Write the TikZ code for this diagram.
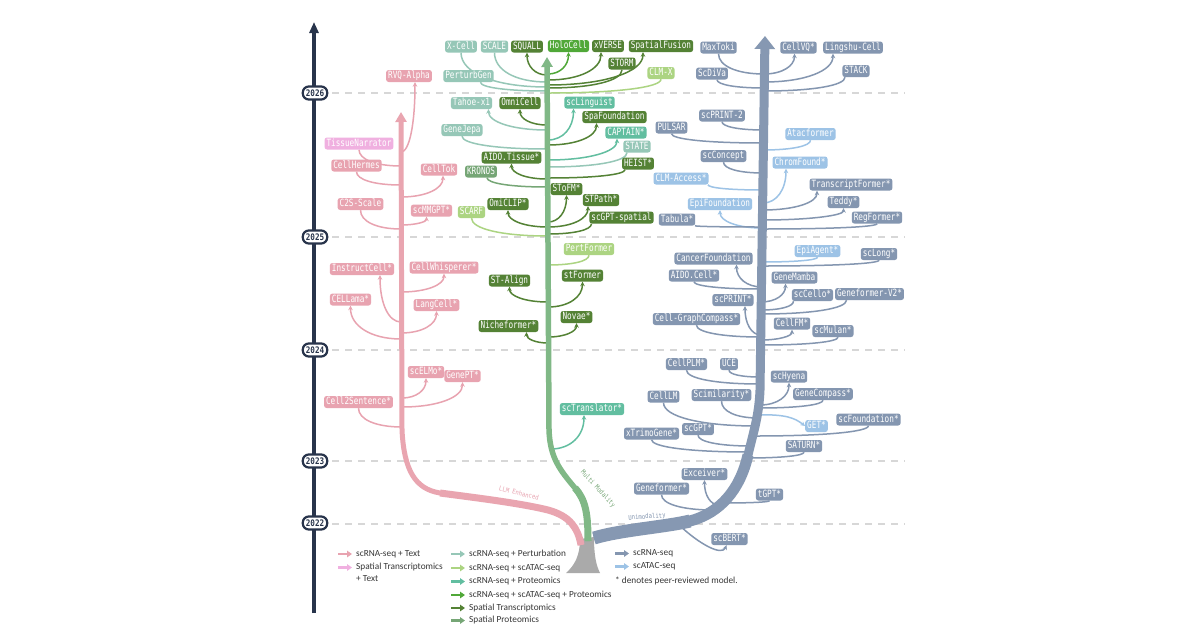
\documentclass[tikz,border=0pt]{standalone}
\usepackage{fontspec}
\setmainfont{Carlito}
\newfontfamily\boxfont[FakeStretch=0.77]{DejaVu Sans Mono}
\newfontfamily\lblfont[FakeStretch=0.85]{DejaVu Sans Mono}
\usetikzlibrary{arrows.meta,calc}
\pgfdeclarelayer{grid}
\pgfdeclarelayer{br}
\pgfdeclarelayer{tr}
\pgfsetlayers{grid,br,tr,main}
\definecolor{navy}{RGB}{40,52,75}
\definecolor{gridc}{RGB}{215,215,215}
\definecolor{pinkT}{RGB}{232,163,176}
\definecolor{pinkS}{RGB}{240,176,224}
\definecolor{pert}{RGB}{150,199,183}
\definecolor{atacRna}{RGB}{172,212,130}
\definecolor{prot}{RGB}{98,190,160}
\definecolor{tri}{RGB}{80,168,56}
\definecolor{spT}{RGB}{84,130,53}
\definecolor{spP}{RGB}{118,166,118}
\definecolor{rna}{RGB}{132,150,176}
\definecolor{atac}{RGB}{157,195,230}
\definecolor{trG}{RGB}{128,184,134}
\definecolor{trP}{RGB}{233,165,176}
\definecolor{trB}{RGB}{134,152,178}
\definecolor{baseg}{RGB}{170,170,170}
\definecolor{legc}{RGB}{55,55,55}
\tikzset{
 mb/.style={fill=#1, text=white, rounded corners=2.5pt, font=\boxfont\fontsize{10}{11}\selectfont, inner xsep=2pt, inner ysep=1.4pt, text height=7.3pt, text depth=1.9pt, minimum height=12pt},
 ln/.style={draw=#1, line width=1.5pt},
 ar/.style={draw=#1, line width=1.5pt, -{Stealth[length=4.5pt,width=4.5pt]}},
 pill/.style={draw=navy, fill=white, line width=2.2pt, rounded corners=6pt, font=\lblfont\bfseries\fontsize{9}{10}\selectfont, text=navy, inner xsep=3pt, inner ysep=1.5pt, minimum height=13pt},
 yl/.style={draw=gridc, line width=1.3pt, dash pattern=on 7pt off 6pt},
 lg/.style={draw=#1, line width=2.6pt, -{Triangle[length=5pt,width=6.5pt]}},
 lt/.style={anchor=west, font=\fontsize{9.3}{11}\selectfont, text=legc, inner sep=0pt},
 tl/.style={font=\lblfont\fontsize{6.6}{7}\selectfont, text=#1, inner sep=0pt},
}
% arrow branch: trunk -> node bottom
\newcommand\bA[5][0]{\begin{pgfonlayer}{br}
 \coordinate (#3) at (#4);
 \coordinate (#3n) at ([xshift=#1pt]#5.south);
 \coordinate (#3c) at (#3n |- #3);
 \draw[ar=#2] (#3) .. controls ($(#3)!0.6!(#3c)$) and ($(#3n)!0.6!(#3c)$) .. (#3n);
 \end{pgfonlayer}}
% plain branch: node bottom -> trunk
\newcommand\bB[5][0]{\begin{pgfonlayer}{br}
 \coordinate (#3) at (#4);
 \coordinate (#3n) at ([xshift=#1pt]#5.south);
 \coordinate (#3c) at (#3n |- #3);
 \draw[ln=#2] (#3n) .. controls ($(#3n)!0.6!(#3c)$) and ($(#3)!0.6!(#3c)$) .. (#3);
 \end{pgfonlayer}}
\begin{document}
\begin{tikzpicture}[x=1pt,y=-1pt]
\begin{pgfonlayer}{grid}
\fill[white] (0,0) rectangle (1200,630);
\foreach \yy in {93,237,350,461,524} \draw[yl] (332,\yy) -- (905,\yy);
\end{pgfonlayer}
\useasboundingbox (0,0) rectangle (1200,630);

% ---------- timeline ----------
\begin{pgfonlayer}{tr}
\draw[navy, line width=3.2pt, -{Triangle[length=11pt,width=9pt]}] (314,613) -- (314,22);
\end{pgfonlayer}
\node[pill] (y2026) at (315,93) {2026};
\node[pill] (y2025) at (315,237) {2025};
\node[pill] (y2024) at (315,350) {2024};
\node[pill] (y2023) at (315,461) {2023};
\node[pill] (y2022) at (315,523) {2022};

% ---------- trunks ----------
\begin{pgfonlayer}{tr}
\fill[baseg] (566,573) .. controls (575,565) and (580,555) .. (580,539) -- (594,537) .. controls (594,555) and (596,565) .. (600,573) -- cycle;
% pink
\draw[trP, line width=7pt] (581,545) .. controls (578,528) and (570,516) .. (548,510) .. controls (520,503) and (470,497) .. (440,493);
\draw[trP, line width=5pt, -{Triangle[length=10pt,width=11pt]}] (581,545) .. controls (578,528) and (570,516) .. (548,510) .. controls (520,503) and (470,497) .. (440,493) .. controls (415,489) and (404,470) .. (402,430) -- (401,112);
% green
\draw[trG, line width=7pt] (588,541) .. controls (588,515) and (586,500) .. (575,488);
\draw[trG, line width=5.5pt, -{Triangle[length=10pt,width=11pt]}] (588,541) .. controls (588,515) and (586,500) .. (575,488) .. controls (560,470) and (550,458) .. (549,430) -- (547,57);
% blue
\draw[trB, line width=13pt] (594,538) .. controls (620,530) and (665,527) .. (690,521);
\draw[trB, line width=11pt] (594,538) .. controls (620,530) and (665,527) .. (690,521) .. controls (720,513) and (740,490) .. (748,455);
\draw[trB, line width=9pt, -{Triangle[length=13pt,width=20pt]}] (594,538) .. controls (620,530) and (665,527) .. (690,521) .. controls (720,513) and (740,490) .. (748,455) .. controls (754,430) and (759,415) .. (760,390) -- (765,36);
\end{pgfonlayer}
\node[tl=pinkT, rotate=-14] (llm) at (519,493) {LLM Enhanced};
\node[tl=spP, rotate=-47] (mm) at (598,489) {Multi Modality};
\node[tl=rna, rotate=4] (uni) at (647,517) {Unimodality};

% ---------- pink nodes ----------
\node[mb=pinkT] (RVQ) at (409,76) {RVQ-Alpha};
\node[mb=pinkS] (TN) at (359,143.5) {TissueNarrator};
\node[mb=pinkT] (CellHermes) at (356.5,165.5) {CellHermes};
\node[mb=pinkT] (CellTok) at (439,169.5) {CellTok};
\node[mb=pinkT] (C2S) at (360.5,204) {C2S-Scale};
\node[mb=pinkT] (scMMGPT) at (431.5,210.5) {scMMGPT*};
\node[mb=pinkT] (InstructCell) at (362,269) {InstructCell*};
\node[mb=pinkT] (CellWhisperer) at (444,267.5) {CellWhisperer*};
\node[mb=pinkT] (CELLama) at (350.5,299.5) {CELLama*};
\node[mb=pinkT] (LangCell) at (436.5,305) {LangCell*};
\node[mb=pinkT] (scELMo) at (426,372) {scELMo*};
\node[mb=pinkT] (GenePT) at (462.5,376) {GenePT*};
\node[mb=pinkT] (CellSent) at (358.5,402) {Cell2Sentence*};

% ---------- green nodes ----------
\node[mb=pert] (XCell) at (461,46.5) {X-Cell};
\node[mb=pert] (SCALE) at (494.5,46.5) {SCALE};
\node[mb=spT] (SQUALL) at (527,46.5) {SQUALL};
\node[mb=tri] (HoloCell) at (568.5,46) {HoloCell};
\node[mb=spT] (xVERSE) at (608,46) {xVERSE};
\node[mb=spT] (SpatialFusion) at (661,46) {SpatialFusion};
\node[mb=spT] (STORM) at (622,63.5) {STORM};
\node[mb=atacRna] (CLMX) at (661,73) {CLM-X};
\node[mb=pert] (PerturbGen) at (468.5,76) {PerturbGen};
\node[mb=pert] (Tahoe) at (471.5,103) {Tahoe-x1};
\node[mb=spT] (OmniCell) at (520,103) {OmniCell};
\node[mb=prot] (scLinguist) at (589.5,102.5) {scLinguist};
\node[mb=spT] (SpaFoundation) at (614.5,117) {SpaFoundation};
\node[mb=pert] (GeneJepa) at (462,130) {GeneJepa};
\node[mb=prot] (CAPTAIN) at (626,132.5) {CAPTAIN*};
\node[mb=pert] (STATE) at (637,146.5) {STATE};
\node[mb=spT] (AIDOTissue) at (511.5,157.5) {AIDO.Tissue*};
\node[mb=spT] (HEIST) at (638,163.5) {HEIST*};
\node[mb=spP] (KRONOS) at (481,171.5) {KRONOS};
\node[mb=spT] (SToFM) at (566.5,189) {SToFM*};
\node[mb=spT] (STPath) at (601,200) {STPath*};
\node[mb=spT] (OmiCLIP) at (508,204) {OmiCLIP*};
\node[mb=atacRna] (SCARF) at (471.5,212) {SCARF};
\node[mb=spT] (scGPTspatial) at (621.5,217.5) {scGPT-spatial};
\node[mb=atacRna] (PertFormer) at (589,249) {PertFormer};
\node[mb=spT] (STAlign) at (509.5,280.5) {ST-Align};
\node[mb=spT] (stFormer) at (582.5,275.5) {stFormer};
\node[mb=spT] (Novae) at (576.5,317) {Novae*};
\node[mb=spT] (Nicheformer) at (508.5,326) {Nicheformer*};
\node[mb=prot] (scTranslator) at (592,409) {scTranslator*};

% ---------- blue nodes ----------
\node[mb=rna] (MaxToki) at (718.5,47.5) {MaxToki};
\node[mb=rna] (CellVQ) at (798.5,47.5) {CellVQ*};
\node[mb=rna] (Lingshu) at (853,47.5) {Lingshu-Cell};
\node[mb=rna] (ScDiVa) at (712,73.5) {ScDiVa};
\node[mb=rna] (STACK) at (856,71) {STACK};
\node[mb=rna] (scPRINTtwo) at (722,115.5) {scPRINT-2};
\node[mb=rna] (PULSAR) at (671.5,127.5) {PULSAR};
\node[mb=atac] (Atacformer) at (810.5,134) {Atacformer};
\node[mb=rna] (scConcept) at (723.5,156) {scConcept};
\node[mb=atac] (ChromFound) at (800,162.5) {ChromFound*};
\node[mb=atac] (CLMAccess) at (681,178.5) {CLM-Access*};
\node[mb=rna] (TranscriptFormer) at (851,184.5) {TranscriptFormer*};
\node[mb=atac] (EpiFoundation) at (720,204) {EpiFoundation};
\node[mb=rna] (Teddy) at (843.5,202) {Teddy*};
\node[mb=rna] (Tabula) at (677,219.5) {Tabula*};
\node[mb=rna] (RegFormer) at (877,217.5) {RegFormer*};
\node[mb=atac] (EpiAgent) at (817.5,251) {EpiAgent*};
\node[mb=rna] (CancerFoundation) at (713.5,258.5) {CancerFoundation};
\node[mb=rna] (scLong) at (879,254) {scLong*};
\node[mb=rna] (AIDOCell) at (694,275.5) {AIDO.Cell*};
\node[mb=rna] (GeneMamba) at (794.5,277.5) {GeneMamba};
\node[mb=rna] (scCello) at (812.5,295) {scCello*};
\node[mb=rna] (GeneformerV) at (869.5,294) {Geneformer-V2*};
\node[mb=rna] (scPRINT) at (733,300) {scPRINT*};
\node[mb=rna] (CellGraph) at (696.5,319) {Cell-GraphCompass*};
\node[mb=rna] (CellFM) at (792,323.5) {CellFM*};
\node[mb=rna] (scMulan) at (833,331) {scMulan*};
\node[mb=rna] (CellPLM) at (686.5,364) {CellPLM*};
\node[mb=rna] (UCE) at (729,364) {UCE};
\node[mb=rna] (scHyena) at (789,376.5) {scHyena};
\node[mb=rna] (CellLM) at (663.5,396.5) {CellLM};
\node[mb=rna] (Scimilarity) at (721.5,395) {Scimilarity*};
\node[mb=rna] (GeneCompass) at (823,394) {GeneCompass*};
\node[mb=rna] (scFoundation) at (868.5,419.5) {scFoundation*};
\node[mb=atac] (GET) at (816.5,426) {GET*};
\node[mb=rna] (xTrimoGene) at (651.5,433.5) {xTrimoGene*};
\node[mb=rna] (scGPT) at (698,429) {scGPT*};
\node[mb=rna] (SATURN) at (804,446) {SATURN*};
\node[mb=rna] (Exceiver) at (704.5,474) {Exceiver*};
\node[mb=rna] (Geneformer) at (661.5,488.5) {Geneformer*};
\node[mb=rna] (tGPT) at (769.5,494.5) {tGPT*};
\node[mb=rna] (scBERT) at (729.5,539) {scBERT*};

% ---------- pink branches ----------
\bB{pinkT}{tTN}{401,166}{TN}
\bA[6]{pinkT}{tRVQ}{401,152}{RVQ}
\bB{pinkT}{tCH}{401,185}{CellHermes}
\bA[4]{pinkT}{tCT}{401,197}{CellTok}
\bB{pinkT}{tCtwoS}{401,229}{C2S}
\bA[-5]{pinkT}{tMM}{401,225}{scMMGPT}
\bA[18]{pinkT}{tIC}{401,322}{InstructCell}
\bA{pinkT}{tCW}{401,292}{CellWhisperer}
\bA{pinkT}{tCL}{401,339}{CELLama}
\bA{pinkT}{tLC}{401,333}{LangCell}
\bA{pinkT}{tEL}{402,398}{scELMo}
\bA{pinkT}{tGP}{402,407}{GenePT}
\bB{pinkT}{tCS}{402,427}{CellSent}

% ---------- green branches ----------
\bB{pert}{tXC}{547,87}{XCell}
\bB{pert}{tSC}{547,82}{SCALE}
\bA{spT}{tSQ}{547,75}{SQUALL}
\bA{tri}{tHC}{548,74}{HoloCell}
\bA[-7]{spT}{tXV}{548,80}{xVERSE}
\bA[-18]{spT}{tSF}{548,85}{SpatialFusion}
\bB{spT}{tSTO}{548,88}{STORM}
\bB{atacRna}{tCX}{548,93}{CLMX}
\bB[12]{pert}{tPG}{547,91}{PerturbGen}
\bA[17]{pert}{tTx}{547,130}{Tahoe}
\bA{spT}{tOC}{547,125}{OmniCell}
\bA[-16]{prot}{tSL}{548,140}{scLinguist}
\bA[-18]{spT}{tSpF}{548,145}{SpaFoundation}
\bB{pert}{tGJ}{547,149}{GeneJepa}
\bA[-9]{prot}{tCA}{548,160}{CAPTAIN}
\bB[-10]{pert}{tSTA}{548,167}{STATE}
\bA{spT}{tAT}{547,179}{AIDOTissue}
\bB[-13]{spT}{tHE}{548,178}{HEIST}
\bB[6]{spP}{tKR}{547,187}{KRONOS}
\bA{spT}{tSTF}{548,222}{SToFM}
\bA[-13]{spT}{tSTP}{548,227}{STPath}
\bA{spT}{tOCL}{548,227}{OmiCLIP}
\bB{atacRna}{tSCA}{548,236}{SCARF}
\bB[-30]{spT}{tSGS}{548,234}{scGPTspatial}
\bB{atacRna}{tPF}{548,265}{PertFormer}
\bA{spT}{tSAl}{548,302}{STAlign}
\bA{spT}{tstF}{548,307}{stFormer}
\bA{spT}{tNO}{548,337}{Novae}
\bA[18]{spT}{tNI}{548,343}{Nicheformer}
\bA[-8]{prot}{tTR}{551,449}{scTranslator}

% ---------- blue branches ----------
\bB{rna}{tMT}{764,74}{MaxToki}
\bA[-4]{rna}{tVQ}{764,74}{CellVQ}
\bA[-20]{rna}{tLS}{764,82}{Lingshu}
\bB[5]{rna}{tSD}{764,88}{ScDiVa}
\bB[-11]{rna}{tSK}{764,91}{STACK}
\bB{rna}{tPtwo}{764,130}{scPRINTtwo}
\bB{rna}{tPU}{763,143}{PULSAR}
\bB{atac}{tAF}{763,150}{Atacformer}
\bB{rna}{tCC}{763,173}{scConcept}
\bA[-14]{atac}{tCF}{763,203}{ChromFound}
\bB[27]{atac}{tCLA}{763,190}{CLMAccess}
\bA[-34]{rna}{tTF}{763,210}{TranscriptFormer}
\bA{atac}{tEF}{762,228}{EpiFoundation}
\bA{rna}{tTE}{762,220}{Teddy}
\bB[18]{rna}{tTA}{762,227}{Tabula}
\bB{rna}{tRF}{762,229}{RegFormer}
\bB{atac}{tEA}{762,262}{EpiAgent}
\bB{rna}{tSLo}{762,266}{scLong}
\bA[23]{rna}{tCaF}{762,287}{CancerFoundation}
\bB{rna}{tAC}{762,289}{AIDOCell}
\bA[-9]{rna}{tGM}{761,302}{GeneMamba}
\bB[-19]{rna}{tCe}{761,310}{scCello}
\bB[-23]{rna}{tGV}{761,314}{GeneformerV}
\bA[12]{rna}{tsP}{761,335}{scPRINT}
\bB{rna}{tCG}{761,337}{CellGraph}
\bA{rna}{tFM}{761,340}{CellFM}
\bB[5]{rna}{tMu}{761,345}{scMulan}
\bB{rna}{tPLM}{760,384}{CellPLM}
\bB{rna}{tUCE}{760,377}{UCE}
\bA{rna}{tHy}{760,405}{scHyena}
\bB{rna}{tCLM}{757,426}{CellLM}
\bB{rna}{tSim}{758,418}{Scimilarity}
\bB{rna}{tGC}{759,408}{GeneCompass}
\bB{rna}{tFd}{755,436}{scFoundation}
\bB{rna}{tXT}{749,452}{xTrimoGene}
\bB{rna}{tGPTb}{751,446}{scGPT}
\bB{rna}{tSAT}{747,458}{SATURN}
\bA{rna}{tEX}{719,505}{Exceiver}
\bB{rna}{tGF}{713,510}{Geneformer}
\bB{rna}{tTG}{722,503}{tGPT}
\begin{pgfonlayer}{br}
\coordinate (tGET) at (758,415);
\draw[ar=atac] (tGET) .. controls (785,414) and (795,418) .. (GET.west);
\coordinate (tBERT) at (678,524);
\coordinate (tBERTn) at ([xshift=-3pt]scBERT.south);
\draw[ar=rna] (tBERT) .. controls (700,545) and (722,556) .. (tBERTn);
\end{pgfonlayer}

% ---------- legend ----------
\draw[lg=pinkT] (338,554) -- (352,554);
\node[lt] (l1) at (356,554) {scRNA-seq + Text};
\draw[lg=pinkS] (338,567.5) -- (352,567.5);
\node[lt] (l2) at (356,567.5) {Spatial Transcriptomics};
\node[lt] (l2b) at (356,578.5) {+ Text};
\draw[lg=pert] (451,554) -- (465,554);
\node[lt] (l3) at (469,554) {scRNA-seq + Perturbation};
\draw[lg=atacRna] (451,568) -- (465,568);
\node[lt] (l4) at (469,568) {scRNA-seq + scATAC-seq};
\draw[lg=prot] (451,581.5) -- (465,581.5);
\node[lt] (l5) at (469,581.5) {scRNA-seq + Proteomics};
\draw[lg=tri] (451,595) -- (465,595);
\node[lt] (l6) at (469,595) {scRNA-seq + scATAC-seq + Proteomics};
\draw[lg=spT] (451,608) -- (465,608);
\node[lt] (l7) at (469,608) {Spatial Transcriptomics};
\draw[lg=spP] (451,620.5) -- (465,620.5);
\node[lt] (l8) at (469,620.5) {Spatial Proteomics};
\draw[lg=rna] (615,553.5) -- (629,553.5);
\node[lt] (l9) at (633,553.5) {scRNA-seq};
\draw[lg=atac] (615,566.5) -- (629,566.5);
\node[lt] (l10) at (633,566.5) {scATAC-seq};
\node[lt] (l11) at (615,581) {* denotes peer-reviewed model.};
\end{tikzpicture}
\end{document}
